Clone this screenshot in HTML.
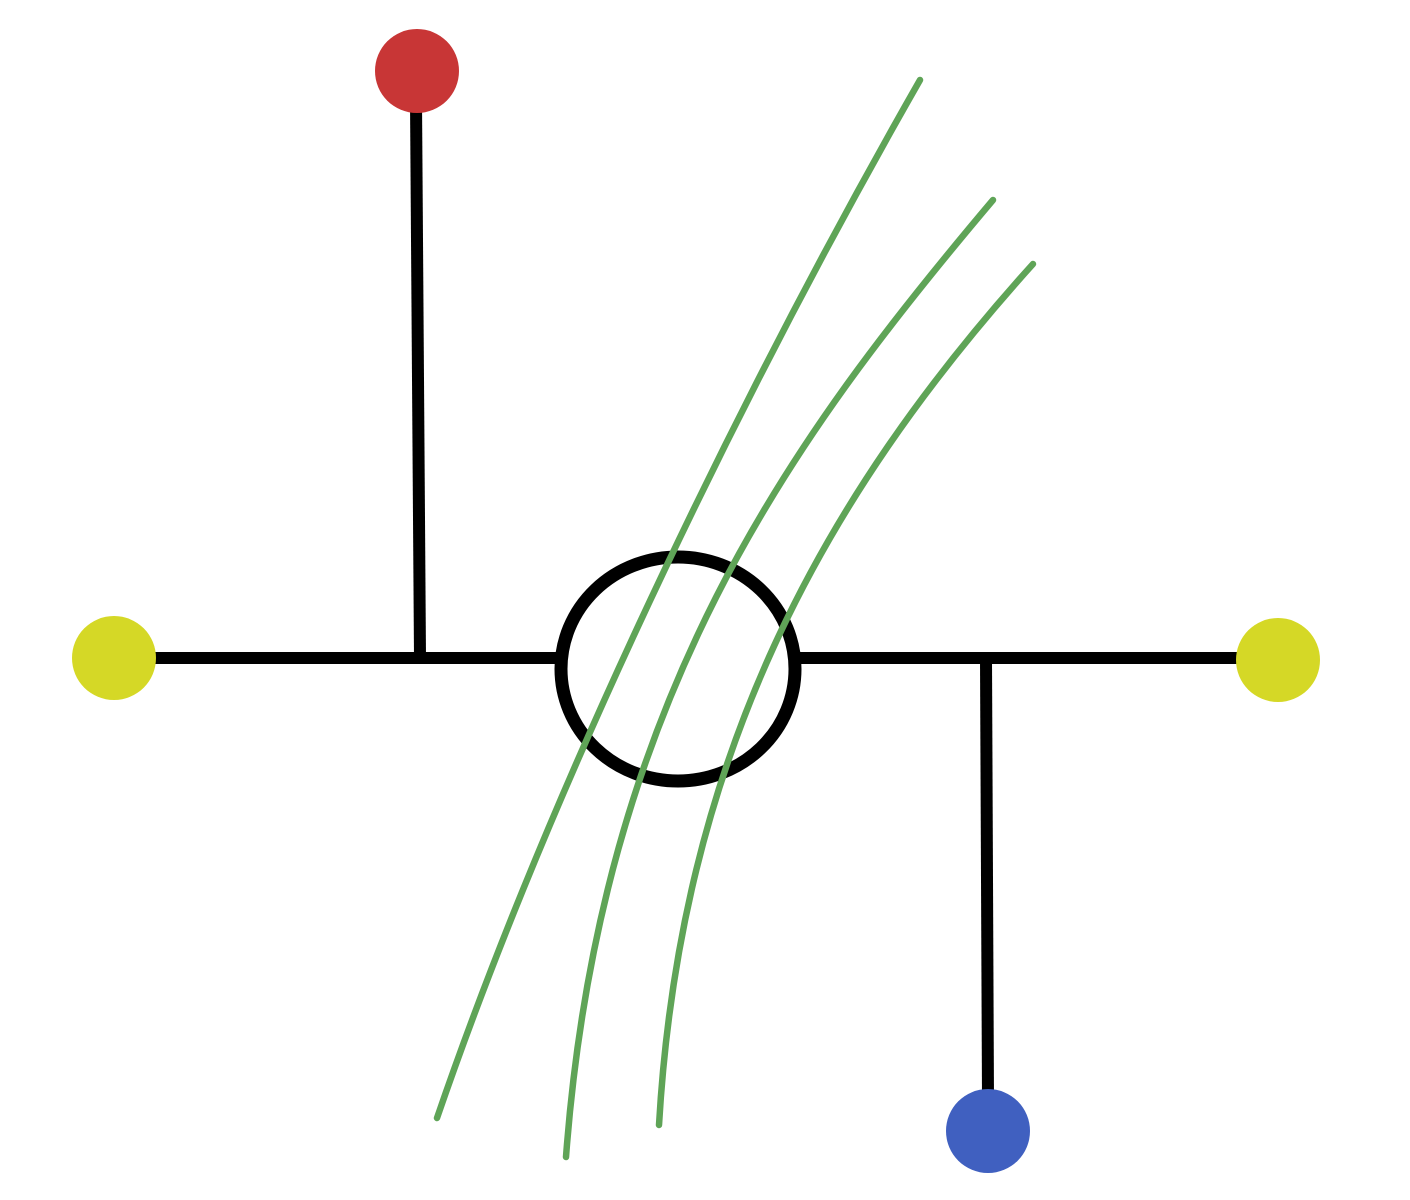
<!DOCTYPE html>
<html><head><style>html,body{margin:0;padding:0;background:#fff;width:1410px;height:1200px;overflow:hidden}</style></head>
<body>
<svg width="1410" height="1200" viewBox="0 0 1410 1200" xmlns="http://www.w3.org/2000/svg">
<g stroke="#000" stroke-width="12" fill="none" stroke-linecap="butt">
<line x1="416" y1="100" x2="420" y2="658"/>
<line x1="140" y1="658" x2="558" y2="658"/>
<line x1="796" y1="658" x2="1250" y2="658"/>
<line x1="986" y1="658" x2="988" y2="1100"/>
<ellipse cx="678" cy="669" rx="117" ry="112" stroke-width="13"/>
</g>
<g stroke="#5fa457" stroke-width="6.5" fill="none" stroke-linecap="round">
<path d="M920 80 C760 360 560 760 437 1118"/>
<path d="M993 200 C790 440 600 700 566 1157"/>
<path d="M1033 264 C820 500 680 760 659 1125"/>
</g>
<circle cx="417" cy="71" r="42" fill="#c83636"/>
<circle cx="114" cy="658" r="42" fill="#d5d826"/>
<circle cx="1278" cy="660" r="42" fill="#d5d826"/>
<circle cx="988" cy="1131" r="42" fill="#4060c0"/>
</svg>
</body></html>
